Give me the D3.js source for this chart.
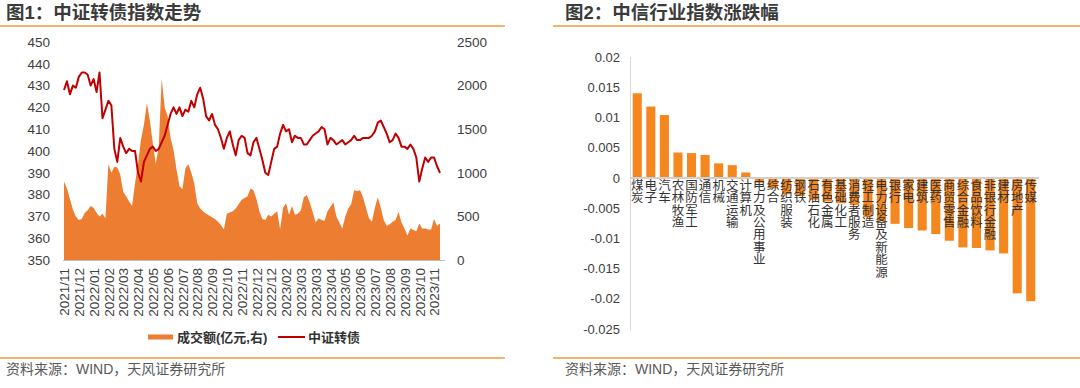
<!DOCTYPE html>
<html><head><meta charset="utf-8">
<script src="https://cdn.jsdelivr.net/npm/d3@7/dist/d3.min.js"></script>
<style>
html,body{margin:0;padding:0;background:#fff;}
svg{display:block;font-family:"Liberation Sans","Noto Sans CJK SC",sans-serif;}
</style></head>
<body>
<svg id="c" width="1080" height="388"></svg>
<script>
// ---------- Chart 1 data ----------
const xLabels = ["2021/11","2021/12","2022/01","2022/02","2022/03","2022/04","2022/05","2022/06","2022/07","2022/08","2022/09","2022/10","2022/11","2022/12","2022/12","2023/02","2023/03","2023/03","2023/04","2023/05","2023/06","2023/07","2023/08","2023/09","2023/10","2023/11"];
const indexValues = [428,432,426,430,429,434,436,436,435,430,433,427,436,415,419,423,421,401,395,406,
402,399,401,400,400,390,386,395,398,401,402,400,401,404,407,412,417,420,417,420,
416,419,418,423,420,426,429,424,416,414,417,412,410,406,401,406,409,403,398,405,
407,406,399,398,404,406,401,396,390,389,395,401,402,408,412,409,410,404,407,406,
406,403,403,405,407,408,409,411,410,403,406,405,403,404,405,403,404,405,407,405,
405,406,406,406,407,409,413,414,411,408,404,405,408,406,402,402,401,403,401,397,
386,392,397,395,397,397,393,390];
const volumeValues = [900,820,700,580,500,460,470,540,570,620,600,540,500,530,480,1100,1000,1070,1060,980,
780,730,670,620,880,1100,1380,1550,1800,1600,1340,1100,1300,2080,1750,1650,1400,1260,1040,850,
810,1050,1100,1000,880,650,590,555,530,510,490,470,440,400,350,530,545,560,590,640,
690,710,730,820,800,700,560,470,460,520,500,530,560,350,600,650,520,620,520,530,
570,720,745,660,550,430,480,460,450,560,610,660,500,430,360,500,590,640,800,790,
800,720,600,480,440,600,720,600,460,390,410,440,460,550,430,360,280,360,345,330,
420,360,360,350,350,470,390,420];
const leftTicks = [350,360,370,380,390,400,410,420,430,440,450];
const rightTicks = [0,500,1000,1500,2000,2500];
const legendNames = ["成交额(亿元,右)","中证转债"];

// ---------- Chart 2 data ----------
const industries = ["煤炭","电子","汽车","农林牧渔","国防军工","通信","机械","交通运输","计算机","电力及公用事业","综合","纺织服装","钢铁","石油石化","有色金属","基础化工","消费者服务","轻工制造","电力设备及新能源","银行","家电","建筑","医药","商贸零售","综合金融","食品饮料","非银行金融","建材","房地产","传媒"];
const changes = [0.014,0.0118,0.0104,0.0042,0.0041,0.0038,0.0024,0.0021,0.0009,-0.0008,-0.0017,-0.0027,-0.003,-0.0036,-0.0039,-0.0042,-0.0045,-0.0065,-0.0072,-0.0076,-0.0083,-0.0087,-0.0093,-0.0104,-0.0115,-0.0116,-0.012,-0.0125,-0.0191,-0.0204];
const barTicks = [0.02,0.015,0.01,0.005,0,-0.005,-0.01,-0.015,-0.02,-0.025];

const titles = ["图1：中证转债指数走势","图2：中信行业指数涨跌幅"];
const sourceText = "资料来源：WIND，天风证券研究所";

const svg = d3.select("#c");
const ORANGE_RULE = "#F39A3B";
const TXT = "#404040";

// headers & footers
[[0,505,6],[553,1080,565]].forEach((p,i)=>{
  svg.append("text").attr("x",p[2]).attr("y",19).attr("font-size",18.5).attr("font-weight","bold")
    .attr("fill","#3b3b3b").text(titles[i]);
  svg.append("line").attr("x1",p[0]).attr("x2",p[1]).attr("y1",26).attr("y2",26)
    .attr("stroke",ORANGE_RULE).attr("stroke-width",1.5);
  svg.append("line").attr("x1",p[0]).attr("x2",p[1]).attr("y1",358).attr("y2",358)
    .attr("stroke",ORANGE_RULE).attr("stroke-width",1.5);
  svg.append("text").attr("x",p[2]).attr("y",374).attr("font-size",14)
    .attr("fill","#595959").text(sourceText);
});

// ---------- Chart 1 ----------
const n = indexValues.length;
const xL = d3.scaleLinear().domain([0,n-1]).range([64,440]);
const yL = d3.scaleLinear().domain([350,450]).range([260,42]);
const yR = d3.scaleLinear().domain([0,2500]).range([260,42]);

const area = d3.area().x((d,i)=>xL(i)).y0(yR(0)).y1(d=>yR(d));
svg.append("path").datum(volumeValues).attr("d",area).attr("fill","#ED7D31");

const line = d3.line().x((d,i)=>xL(i)).y(d=>yL(d));
svg.append("path").datum(indexValues).attr("d",line).attr("fill","none")
  .attr("stroke","#C00000").attr("stroke-width",2).attr("stroke-linejoin","round");

// bottom axis line
svg.append("line").attr("x1",63).attr("x2",445).attr("y1",260.5).attr("y2",260.5)
  .attr("stroke","#BFBFBF").attr("stroke-width",1);

const gl = svg.append("g").attr("transform","translate(64,0)")
  .call(d3.axisLeft(yL).tickValues(leftTicks).tickSize(0).tickPadding(14).tickFormat(d3.format("d")));
gl.select(".domain").remove();
gl.selectAll("text").attr("font-size",13.5).attr("fill",TXT).attr("font-family",null);

const gr = svg.append("g").attr("transform","translate(440,0)")
  .call(d3.axisRight(yR).tickValues(rightTicks).tickSize(0).tickPadding(17).tickFormat(d3.format("d")));
gr.select(".domain").remove();
gr.selectAll("text").attr("font-size",13.5).attr("fill",TXT).attr("font-family",null);

const labelPos = xLabels.map((d,i)=>i*5);
const gx = svg.append("g").attr("transform","translate(0,260)")
  .call(d3.axisBottom(xL).tickValues(labelPos).tickSize(0).tickFormat((d,i)=>xLabels[i]));
gx.select(".domain").remove();
gx.selectAll("text").attr("font-size",13.5).attr("fill",TXT).attr("font-family",null)
  .attr("text-anchor","end").attr("transform","rotate(-90)").attr("dy","0.35em").attr("x",-8).attr("y",0);

// legend
svg.append("rect").attr("x",148).attr("y",334.5).attr("width",25).attr("height",5).attr("fill","#ED7D31");
svg.append("text").attr("x",177).attr("y",342).attr("font-size",13).attr("font-weight","bold").attr("fill","#333").text(legendNames[0]);
svg.append("line").attr("x1",278).attr("x2",305).attr("y1",337).attr("y2",337).attr("stroke","#C00000").attr("stroke-width",2);
svg.append("text").attr("x",308).attr("y",342).attr("font-size",13).attr("font-weight","bold").attr("fill","#333").text(legendNames[1]);

// ---------- Chart 2 ----------
const xB = d3.scaleBand().domain(industries).range([630,1038]).paddingInner(0.33).paddingOuter(0.2);
const yB = d3.scaleLinear().domain([-0.025,0.02]).range([329,57]);

svg.append("line").attr("x1",630.5).attr("x2",630.5).attr("y1",57).attr("y2",330)
  .attr("stroke","#D9D9D9").attr("stroke-width",1);

const gb = svg.append("g").attr("transform","translate(630,0)")
  .call(d3.axisLeft(yB).tickValues(barTicks).tickSize(0).tickPadding(10).tickFormat(d=>String(+d.toFixed(3))));
gb.select(".domain").remove();
gb.selectAll("text").attr("font-size",13).attr("fill",TXT).attr("font-family",null);

svg.append("g").selectAll("rect").data(changes).join("rect")
  .attr("x",(d,i)=>xB(industries[i])).attr("width",xB.bandwidth())
  .attr("y",d=>yB(Math.max(0,d))).attr("height",d=>Math.abs(yB(d)-yB(0)))
  .attr("fill","#F5871F");

svg.append("line").attr("x1",630).attr("x2",1039).attr("y1",yB(0)).attr("y2",yB(0))
  .attr("stroke","#D0D0D0").attr("stroke-width",2);

const lab = svg.append("g").attr("font-size",12.5).attr("fill","#333").attr("text-anchor","middle");
industries.forEach(name=>{
  const cx = xB(name)+xB.bandwidth()/2;
  const t = lab.append("text").attr("x",cx).attr("y",yB(0)+12);
  Array.from(name).forEach((ch,k)=>{
    t.append("tspan").attr("x",cx).attr("dy",k===0?0:12.4).text(ch);
  });
});
</script>
</body></html>
